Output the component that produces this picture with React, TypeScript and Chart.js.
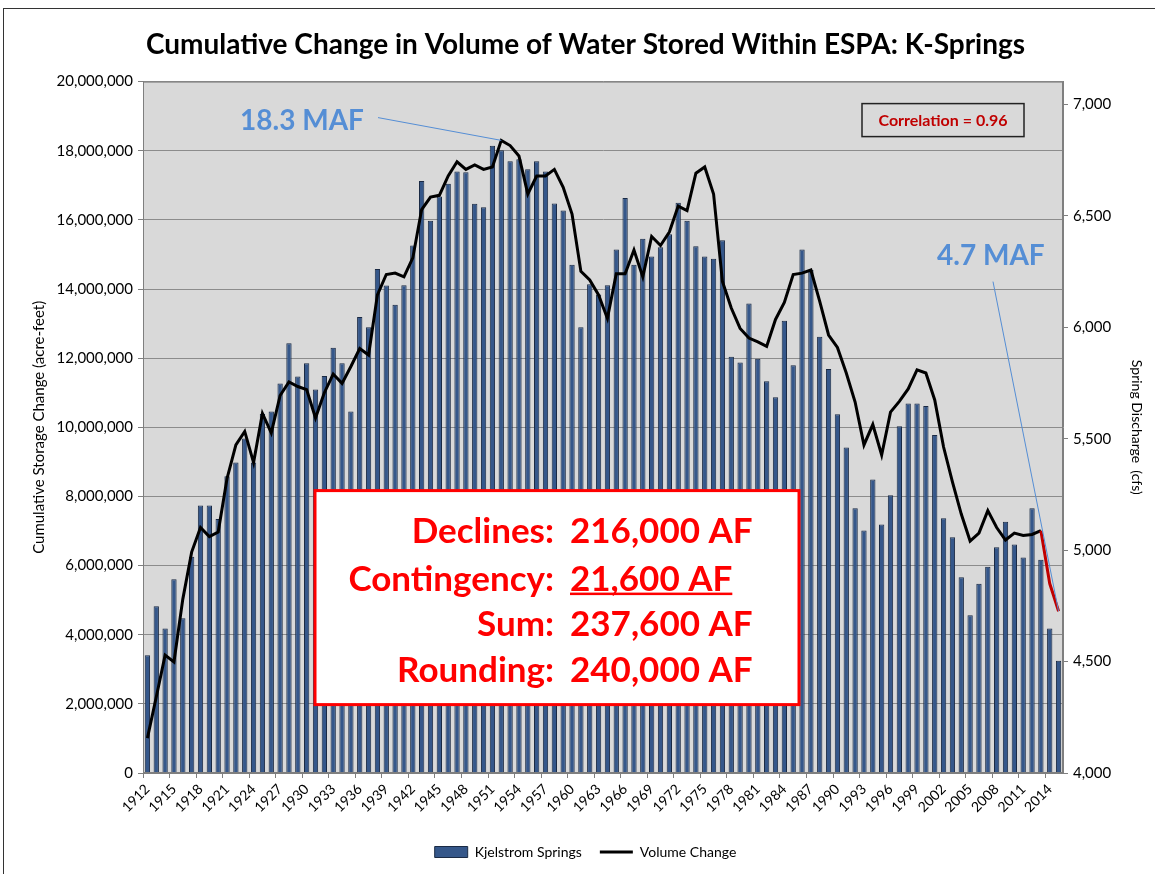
import React, { useEffect, useRef } from 'react';
import { Chart, registerables } from 'chart.js';

Chart.register(...registerables);

// ---------- data ----------
const years = [
  '1912','1913','1914','1915','1916','1917','1918','1919','1920','1921',
  '1922','1923','1924','1925','1926','1927','1928','1929','1930','1931',
  '1932','1933','1934','1935','1936','1937','1938','1939','1940','1941',
  '1942','1943','1944','1945','1946','1947','1948','1949','1950','1951',
  '1952','1953','1954','1955','1956','1957','1958','1959','1960','1961',
  '1962','1963','1964','1965','1966','1967','1968','1969','1970','1971',
  '1972','1973','1974','1975','1976','1977','1978','1979','1980','1981',
  '1982','1983','1984','1985','1986','1987','1988','1989','1990','1991',
  '1992','1993','1994','1995','1996','1997','1998','1999','2000','2001',
  '2002','2003','2004','2005','2006','2007','2008','2009','2010','2011',
  '2012','2013','2014','2015',
];

// Kjelstrom Springs discharge (cfs) - right axis
const kjelstromSprings = [
  4528, 4748, 4648, 4869, 4694, 4970, 5201, 5201, 5140, 5332,
  5394, 5501, 5394, 5611, 5622, 5748, 5929, 5779, 5839, 5721,
  5782, 5909, 5839, 5622, 6047, 6000, 6262, 6188, 6101, 6189,
  6367, 6657, 6479, 6587, 6645, 6699, 6696, 6555, 6539, 6815,
  6795, 6745, 6755, 6710, 6745, 6699, 6556, 6525, 6281, 6000,
  6194, 6147, 6189, 6349, 6581, 6281, 6398, 6318, 6360, 6418,
  6559, 6479, 6364, 6318, 6308, 6391, 5868, 5842, 6107, 5859,
  5758, 5686, 6030, 5830, 6349, 6257, 5958, 5813, 5610, 5461,
  5188, 5088, 5317, 5115, 5246, 5556, 5658, 5658, 5647, 5517,
  5143, 5058, 4878, 4708, 4849, 4926, 5013, 5128, 5026, 4967,
  5188, 4957, 4648, 4504,
];

// Cumulative volume change (acre-feet) - left axis
const volumeChange = [
  1010000, 2200000, 3410000, 3210000, 5030000, 6390000, 7100000, 6840000, 6970000, 8520000,
  9490000, 9880000, 8980000, 10400000, 9840000, 10920000, 11310000, 11180000, 11090000, 10270000,
  11000000, 11540000, 11270000, 11760000, 12280000, 12090000, 13830000, 14420000, 14460000, 14350000,
  14900000, 16300000, 16660000, 16710000, 17270000, 17680000, 17460000, 17590000, 17460000, 17530000,
  18300000, 18150000, 17850000, 16750000, 17270000, 17270000, 17460000, 16940000, 16170000, 14510000,
  14260000, 13830000, 13150000, 14440000, 14440000, 15130000, 14350000, 15520000, 15260000, 15650000,
  16400000, 16270000, 17350000, 17530000, 16750000, 14220000, 13450000, 12860000, 12580000, 12470000,
  12340000, 13120000, 13610000, 14420000, 14460000, 14550000, 13640000, 12670000, 12310000, 11570000,
  10730000, 9490000, 10080000, 9200000, 10440000, 10750000, 11110000, 11660000, 11570000, 10790000,
  9430000, 8420000, 7490000, 6710000, 6940000, 7590000, 7100000, 6740000, 6940000, 6870000,
  6900000, 7010000, 5480000, 4680000,
];

const rightTickValues = [4000, 4500, 5000, 5500, 6000, 6500, 7000];
const peakYear = '1952';
const lastYear = '2015';
const redFromYear = '2013';
const peakLabel = '18.3 MAF';
const endLabel = '4.7 MAF';
const correlationText = 'Correlation = 0.96';
const boxLabels = ['Declines:', 'Contingency:', 'Sum:', 'Rounding:'];
const boxValues = ['216,000 AF', '21,600 AF', '237,600 AF', '240,000 AF'];

// ---------- styles ----------
const FONT = 'Lato, "DejaVu Sans", sans-serif';
const BAR_FILL = '#35578a';
const BAR_EDGE = '#1a2a44';
const NOTE_BLUE = '#558ed5';
const RED = '#ff0000';

const decorPlugin = {
  id: 'decor',
  beforeDraw(chart: any) {
    const { ctx, chartArea: a } = chart;
    ctx.save();
    ctx.fillStyle = '#d9d9d9';
    ctx.fillRect(a.left, a.top, a.right - a.left, a.bottom - a.top);
    ctx.restore();
  },
  afterDraw(chart: any) {
    const { ctx, chartArea: a } = chart;
    const meta = chart.getDatasetMeta(1);
    const peak = meta.data[years.indexOf(peakYear)];
    const last = meta.data[years.indexOf(lastYear)];
    ctx.save();

    // plot border
    ctx.strokeStyle = '#7f7f7f';
    ctx.lineWidth = 1;
    ctx.strokeRect(a.left + 0.5, a.top + 0.5, a.right - a.left - 1, a.bottom - a.top - 1);

    // 18.3 MAF note
    ctx.font = `bold 28px ${FONT}`;
    ctx.fillStyle = NOTE_BLUE;
    ctx.textAlign = 'left';
    ctx.textBaseline = 'middle';
    ctx.fillText(peakLabel, a.left + 97, a.top + 39);
    ctx.strokeStyle = NOTE_BLUE;
    ctx.lineWidth = 1;
    ctx.beginPath();
    ctx.moveTo(a.left + 235, a.top + 36);
    ctx.lineTo(peak.x, peak.y);
    ctx.stroke();

    // 4.7 MAF note
    ctx.fillText(endLabel, a.left + 794, a.top + 174);
    ctx.beginPath();
    ctx.moveTo(a.left + 850, a.top + 200);
    ctx.lineTo(last.x, last.y);
    ctx.stroke();

    // correlation box
    ctx.strokeStyle = '#222';
    ctx.lineWidth = 1.5;
    ctx.strokeRect(a.left + 719, a.top + 22, 162, 33);
    ctx.font = `bold 16px ${FONT}`;
    ctx.fillStyle = '#c00000';
    ctx.textAlign = 'center';
    ctx.fillText(correlationText, a.left + 800, a.top + 39);

    // summary box
    const bx = a.left + 172, by = a.top + 409, bw = 484, bh = 214;
    ctx.fillStyle = '#ffffff';
    ctx.fillRect(bx, by, bw, bh);
    ctx.strokeStyle = RED;
    ctx.lineWidth = 3;
    ctx.strokeRect(bx, by, bw, bh);
    ctx.font = `bold 35px ${FONT}`;
    ctx.fillStyle = RED;
    const rows = [450, 498, 543, 589];
    boxLabels.forEach((lab, i) => {
      const y = a.top + rows[i];
      ctx.textAlign = 'right';
      ctx.fillText(lab, a.left + 411, y);
      ctx.textAlign = 'left';
      ctx.fillText(boxValues[i], a.left + 427, y);
      if (i === 1) {
        const w = ctx.measureText(boxValues[i]).width;
        ctx.fillRect(a.left + 427, y + 13, w, 2.5);
      }
    });
    ctx.restore();
  },
};

export default function App() {
  const ref = useRef<HTMLCanvasElement | null>(null);

  useEffect(() => {
    if (!ref.current) return;
    const redIdx = years.indexOf(redFromYear);
    const chart = new Chart(ref.current, {
      type: 'bar',
      data: {
        labels: years,
        datasets: [
          {
            type: 'bar',
            label: 'Kjelstrom Springs',
            data: kjelstromSprings,
            yAxisID: 'y1',
            backgroundColor: BAR_FILL,
            borderColor: BAR_EDGE,
            borderWidth: 1,
            barPercentage: 0.6,
            categoryPercentage: 1,
            order: 2,
          },
          {
            type: 'line',
            label: 'Volume Change',
            data: volumeChange,
            yAxisID: 'y',
            borderColor: '#000000',
            backgroundColor: '#000000',
            borderWidth: 3,
            pointRadius: 0,
            tension: 0,
            order: 1,
            segment: {
              borderColor: (c: any) => (c.p0DataIndex >= redIdx ? '#c00000' : '#000000'),
            },
          } as any,
        ],
      },
      options: {
        responsive: false,
        animation: false,
        layout: { padding: { left: 16, right: 0, top: 0, bottom: 5 } },
        plugins: {
          title: {
            display: true,
            text: 'Cumulative Change in Volume of Water Stored Within ESPA: K-Springs',
            color: '#000',
            font: { family: FONT, size: 28, weight: 'bold' },
            padding: { top: 28, bottom: 20 },
          },
          legend: {
            display: true,
            position: 'bottom',
            labels: {
              color: '#000',
              font: { family: FONT, size: 14 },
              usePointStyle: true,
              pointStyleWidth: 33,
              boxWidth: 33,
              boxHeight: 11,
              padding: 18,
              generateLabels: () => [
                { text: 'Kjelstrom Springs', fillStyle: BAR_FILL, strokeStyle: BAR_EDGE, lineWidth: 1, pointStyle: 'rect', datasetIndex: 0, hidden: false, fontColor: '#000' } as any,
                { text: 'Volume Change', fillStyle: '#000', strokeStyle: '#000', lineWidth: 3, pointStyle: 'line', datasetIndex: 1, hidden: false, fontColor: '#000' } as any,
              ],
            },
          },
          tooltip: { enabled: false },
        },
        scales: {
          x: {
            type: 'category',
            offset: true,
            grid: {
              drawOnChartArea: false,
              drawTicks: true,
              tickLength: 5,
              tickColor: (c: any) => (c.index % 3 === 0 ? '#7f7f7f' : 'rgba(0,0,0,0)'),
            },
            border: { color: '#7f7f7f' },
            ticks: {
              autoSkip: false,
              maxRotation: 45,
              minRotation: 45,
              padding: 3,
              color: '#000',
              font: { family: FONT, size: 14 },
              callback: (_v: any, i: number) => (i % 3 === 0 ? years[i] : ''),
            },
            afterFit: (s: any) => { s.height = 54; },
          },
          y: {
            position: 'left',
            min: 0,
            max: 20000000,
            grid: { color: '#8c8c8c', tickLength: 5, tickColor: '#7f7f7f' },
            border: { color: '#7f7f7f' },
            ticks: {
              stepSize: 2000000,
              padding: 5,
              color: '#000',
              font: { family: FONT, size: 15 },
              callback: (v: any) => Number(v).toLocaleString('en-US'),
            },
            title: {
              display: true,
              text: 'Cumulative Storage Change (acre-feet)',
              color: '#000',
              font: { family: FONT, size: 15 },
              padding: { top: 14, bottom: 0 },
            },
            afterFit: (s: any) => { s.width = 127; },
          },
          y1: {
            position: 'right',
            min: 4000,
            max: 7103,
            grid: { drawOnChartArea: false, tickLength: 5, tickColor: '#7f7f7f' },
            border: { color: '#7f7f7f' },
            afterBuildTicks: (s: any) => { s.ticks = rightTickValues.map((v) => ({ value: v })); },
            ticks: {
              padding: 5,
              color: '#000',
              font: { family: FONT, size: 15 },
              callback: (v: any) => Number(v).toLocaleString('en-US'),
            },
            title: {
              display: true,
              text: 'Spring Discharge  (cfs)',
              color: '#000',
              font: { family: FONT, size: 14 },
              padding: { top: 10, bottom: 0 },
            },
            afterFit: (s: any) => { s.width = 92; },
          },
        },
      },
      plugins: [decorPlugin],
    } as any);
    return () => chart.destroy();
  }, []);

  return (
    <div style={{ position: 'fixed', left: 0, top: 0, width: 1155, height: 874, background: '#ffffff', overflow: 'hidden' }}>
      <div style={{ position: 'absolute', left: 3, top: 8, width: 1170, height: 900, border: '1.5px solid #333', boxSizing: 'border-box' }} />
      <canvas ref={ref} width={1155} height={874} style={{ position: 'absolute', left: 0, top: 0, width: 1155, height: 874 }} />
    </div>
  );
}
